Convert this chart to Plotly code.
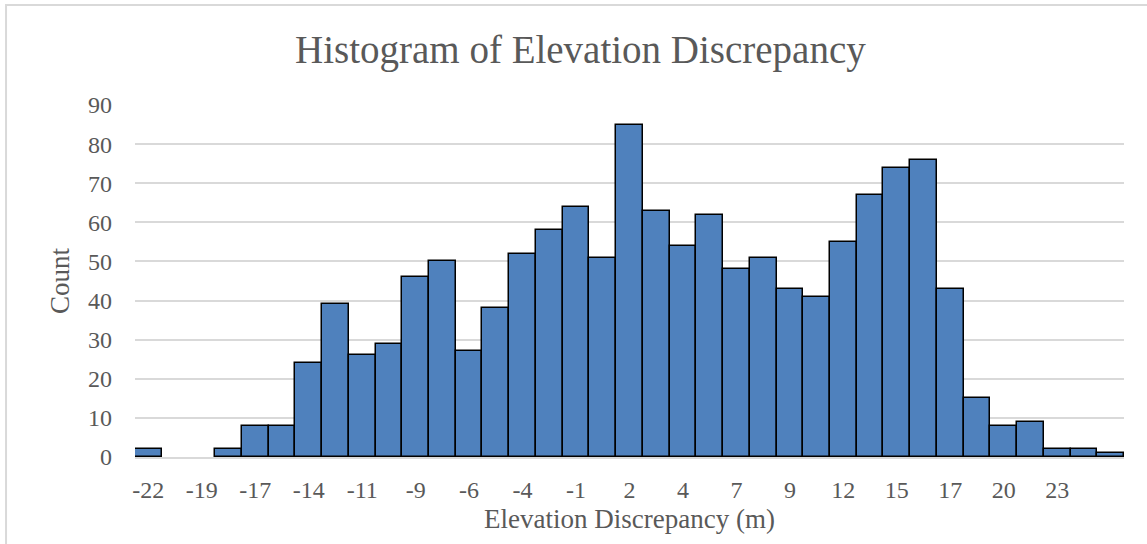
import plotly.graph_objects as go

# bin counts (37 bins)
counts = [2, 0, 0, 2, 8, 8, 24, 39, 26, 29, 46, 50, 27, 38, 52, 58, 64, 51, 85,
          63, 54, 62, 48, 51, 43, 41, 55, 67, 74, 76, 43, 15, 8, 9, 2, 2, 1]
# tick labels shown under every other bin
tick_labels = ['-22', '-19', '-17', '-14', '-11', '-9', '-6', '-4', '-1', '2',
               '4', '7', '9', '12', '15', '17', '20', '23']

bins = list(range(len(counts)))
tick_pos = bins[::2][:len(tick_labels)]

FONT = 'Liberation Serif'
GREY = '#595959'

# empty bins get no outline (Excel draws nothing there)
outline = [1.5 if c > 0 else 0 for c in counts]

fig = go.Figure()
fig.add_trace(go.Bar(
    x=bins,
    y=counts,
    marker=dict(color='#4F81BD', line=dict(color='black', width=outline)),
    hoverinfo='y',
))

fig.update_layout(
    width=1147,
    height=544,
    margin=dict(l=135, r=23, t=105, b=87),
    paper_bgcolor='white',
    plot_bgcolor='white',
    bargap=0,
    showlegend=False,
    font=dict(family=FONT, color=GREY, size=24),
    title=dict(text='Histogram of Elevation Discrepancy', x=0.506, xanchor='center',
               y=0.91, yanchor='middle', font=dict(family=FONT, size=39, color=GREY)),
)

fig.update_xaxes(
    range=[-0.5, len(counts) - 0.5],
    tickmode='array',
    tickvals=tick_pos,
    ticktext=tick_labels,
    showgrid=False,
    showline=True,
    linecolor='#d9d9d9',
    linewidth=1.5,
    ticks='',
    ticklabelstandoff=10,
    tickfont=dict(size=24),
    title=dict(text='Elevation Discrepancy (m)', font=dict(size=27), standoff=8),
)

fig.update_yaxes(
    range=[0, 90],
    dtick=10,
    showgrid=True,
    gridcolor='#d9d9d9',
    gridwidth=1.5,
    zeroline=False,
    ticks='',
    ticklabelstandoff=22,
    tickfont=dict(size=24),
    title=dict(text='Count', font=dict(size=27), standoff=10),
)

# light grey chart-area border (only top and left edges fall inside the picture)
fig.add_shape(type='rect', xref='paper', yref='paper',
              x0=-0.1304, x1=1.03, y0=-0.3, y1=1.284,
              line=dict(color='#d9d9d9', width=2), layer='below')

fig.write_html('out.html', config={'displayModeBar': False},
               post_script="document.body.style.margin='0';")
